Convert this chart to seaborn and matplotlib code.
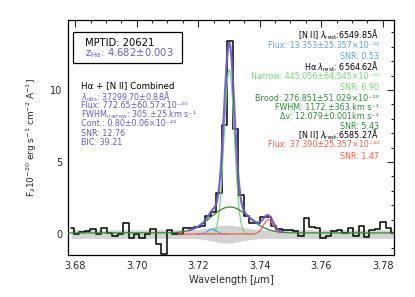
import numpy as np
import pandas as pd
import matplotlib
matplotlib.use("Agg")
import matplotlib.pyplot as plt
from matplotlib.ticker import MultipleLocator
import seaborn as sns

# -------------------------------
# data
# -------------------------------
bin_start = 3.67867   # centre of first spectral bin [um]
bin_width = 0.00178
flux = [0.40, 0.00, 0.15, 0.20, 0.35, 0.00, 0.45, 0.05, -0.15, 0.00,
        0.80, -0.25, 0.00, -0.25, 0.00, 0.35, -0.70, -1.40, 0.30, 0.00,
        0.00, 0.40, 0.45, 0.50, 0.55, 1.25, 1.55, 2.85, 7.55, 13.40,
        7.30, 2.70, 1.25, 0.80, 0.80, 1.20, 1.20, 0.55, 0.35, 0.30,
        0.30, 0.20, -0.15, 1.15, 0.50, 0.40, -0.30, -0.15, 0.20, 0.30,
        0.05, 0.45, -0.10, 0.55, -0.20, 0.30, 0.35, 0.85, 0.40, 0.05]
error = [0.30, 0.30, 0.30, 0.30, 0.30, 0.30, 0.30, 0.30, 0.30, 0.30,
         0.30, 0.30, 0.30, 0.30, 0.30, 0.30, 0.30, 0.30, 0.30, 0.30,
         0.30, 0.30, 0.30, 0.32, 0.36, 0.42, 0.50, 0.57, 0.62, 0.62,
         0.57, 0.50, 0.42, 0.36, 0.32, 0.30, 0.30, 0.30, 0.30, 0.30,
         0.30, 0.30, 0.30, 0.30, 0.30, 0.30, 0.30, 0.30, 0.30, 0.30,
         0.30, 0.30, 0.30, 0.30, 0.30, 0.30, 0.30, 0.30, 0.30, 0.30]

# gaussian components: name, centre [um], peak, sigma [um], drawn range, colour
comp_names = ["[N II] 6550", "Ha narrow", "Ha broad", "[N II] 6585"]
comp_center = [3.7245, 3.7301, 3.7303, 3.7428]
comp_peak = [0.35, 11.4, 1.80, 1.00]
comp_sigma = [0.0014, 0.00165, 0.0062, 0.0016]
comp_range = [(3.7195, 3.7300), (3.7225, 3.7380), (3.6777, 3.7836), (3.7135, 3.7465)]
comp_color = ["#5aa5e6", "#7ad67a", "#2e8b3a", "#ff5a45"]
continuum = 0.08
total_range = (3.7170, 3.7475)
total_color = "#6a5acd"

# -------------------------------
# figure
# -------------------------------
sns.set_style("white")
plt.rcParams["font.family"] = ["DejaVu Sans"]
plt.rcParams["mathtext.fontset"] = "dejavusans"

fig = plt.figure(figsize=(4.15, 2.97), dpi=100)
ax = fig.add_axes([0.164, 0.141, 0.785, 0.792])

wave = bin_start + bin_width * np.arange(len(flux))
spec = pd.DataFrame({"wave": wave, "flux": flux, "err": error})

ax.fill_between(spec["wave"], -spec["err"], spec["err"], color="#d3d3d3", lw=0, zorder=1)
sns.lineplot(data=spec, x="wave", y="flux", drawstyle="steps-mid", color="black",
             lw=1.1, estimator=None, sort=False, ax=ax, zorder=2)

def gauss(x, c, a, s):
    return a * np.exp(-0.5 * ((x - c) / s) ** 2)

for name, c, a, s, rng, col in zip(comp_names, comp_center, comp_peak, comp_sigma,
                                   comp_range, comp_color):
    xx = np.linspace(rng[0], rng[1], 400)
    yy = gauss(xx, c, a, s) + (continuum if name == "Ha broad" else 0)
    sns.lineplot(x=xx, y=yy, color=col, lw=0.9, estimator=None, sort=False, ax=ax,
                 zorder=4 if "N II" in name else 3)

xx = np.linspace(total_range[0], total_range[1], 600)
tot = continuum + sum(gauss(xx, c, a, s) for c, a, s in zip(comp_center, comp_peak, comp_sigma))
sns.lineplot(x=xx, y=tot, color=total_color, lw=1.6, alpha=0.9, estimator=None, sort=False,
             ax=ax, zorder=5)

ax.set_xlim(3.6777, 3.7836)
ax.set_ylim(-1.46, 14.86)
ax.xaxis.set_major_locator(MultipleLocator(0.02))
ax.xaxis.set_minor_locator(MultipleLocator(0.005))
ax.yaxis.set_major_locator(MultipleLocator(5))
ax.yaxis.set_minor_locator(MultipleLocator(1))
ax.xaxis.set_major_formatter(matplotlib.ticker.FormatStrFormatter("%.2f"))
ax.tick_params(which="both", direction="in", top=True, right=True, labelsize=7, width=0.8)
ax.tick_params(which="major", length=5, pad=4)
ax.tick_params(which="minor", length=2.5)
for sp in ax.spines.values():
    sp.set_linewidth(0.9)
    sp.set_color("black")

ax.set_xlabel(r"Wavelength [$\mu$m]", fontsize=7, labelpad=2)
ax.set_ylabel(r"F$_\lambda$10$^{-20}$ erg s$^{-1}$ cm$^{-2}$ A$^{-1}$]", fontsize=6.5, labelpad=8)

# ID box
fig.text(85 / 415, 1 - 42.7 / 297, "MPTID: 20621", fontsize=7.2, color="black", va="center")
fig.text(85 / 415, 1 - 53.5 / 297, r"z$_{\rm H\alpha}$: 4.682±0.003", fontsize=7.2,
         color=total_color, va="center")
fig.patches.append(plt.Rectangle((72.7 / 415, 1 - 63.3 / 297), 109 / 415, 31.6 / 297,
                                 transform=fig.transFigure, fill=False, ec="black", lw=0.9))

# combined fit block
left_lines = [
    ("Hα + [N II] Combined", "black"),
    (r"$\lambda_{\rm obs}$: 37299.70±0.88Å", total_color),
    ("Flux: 772.65±60.57×10⁻²⁰", total_color),
    (r"FWHM$_{\rm narrow}$: 305.±25.km s⁻¹", total_color),
    ("Cont.: 0.80±0.06×10⁻²¹", total_color),
    ("SNR: 12.76", total_color),
    ("BIC: 39.21", total_color),
]
left_y = [86, 96.7, 106, 115, 124, 133, 142.5]
for i, ((txt, col), yp) in enumerate(zip(left_lines, left_y)):
    fig.text(81 / 415, 1 - yp / 297, txt, fontsize=6.3 if i == 0 else 5.8, color=col,
             va="center", ha="left")

# per-line block
right_lines = [
    (r"[N II] $\lambda_{\rm rest}$:6549.85Å", "black"),
    ("Flux: 13.353±25.357×10⁻²⁰", comp_color[0]),
    ("SNR: 0.53", comp_color[0]),
    (r"Hα $\lambda_{\rm rest}$: 6564.62Å", "black"),
    ("Narrow: 445.056±64.545×10⁻²⁰", comp_color[1]),
    ("SNR: 6.90", comp_color[1]),
    ("Brood: 276.851±51.029×10⁻²⁰", comp_color[2]),
    ("FWHM: 1172.±363.km s⁻¹", comp_color[2]),
    ("Δv: 12.079±0.001km s⁻¹", comp_color[2]),
    ("SNR: 5.43", comp_color[2]),
    (r"[N II] $\lambda_{\rm rest}$:6585.27Å", "black"),
    ("Flux: 37.390±25.357×10⁻²⁰", comp_color[3]),
    ("SNR: 1.47", comp_color[3]),
]
right_y = [35, 45, 56.5, 66.5, 76.5, 87, 98, 107.3, 116.7, 126, 135, 144.5, 156]
for (txt, col), yp in zip(right_lines, right_y):
    fig.text(379 / 415, 1 - yp / 297, txt, fontsize=5.8, color=col, va="center", ha="right")

fig.savefig("out.png", dpi=100)
